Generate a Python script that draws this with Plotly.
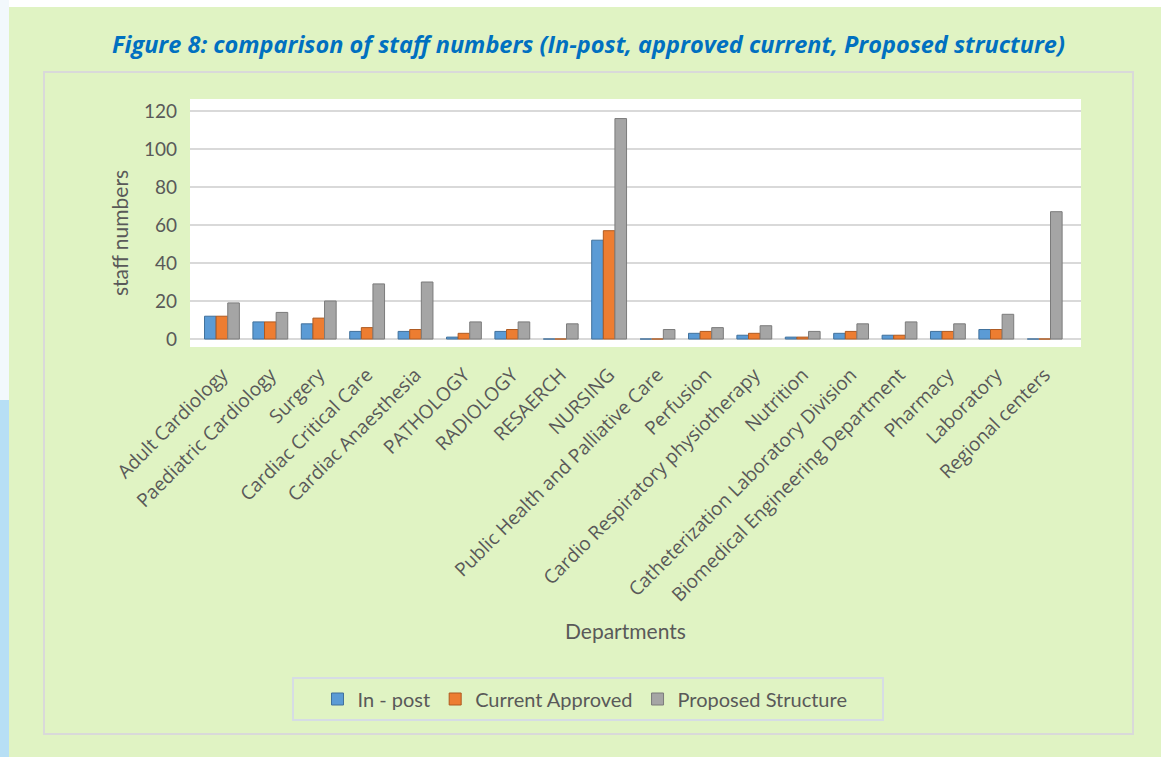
import plotly.graph_objects as go

categories = [
    "Adult Cardiology", "Paediatric Cardiology", "Surgery", "Cardiac Critical Care",
    "Cardiac Anaesthesia", "PATHOLOGY", "RADIOLOGY", "RESAERCH", "NURSING",
    "Public Health and Palliative Care", "Perfusion", "Cardio Respiratory physiotherapy",
    "Nutrition", "Catheterization Laboratory Division", "Biomedical Engineering Department",
    "Pharmacy", "Laboratory", "Regional centers",
]
in_post = [12, 9, 8, 4, 4, 1, 4, 0, 52, 0, 3, 2, 1, 3, 2, 4, 5, 0]
current_approved = [12, 9, 11, 6, 5, 3, 5, 0, 57, 0, 4, 3, 1, 4, 2, 4, 5, 0]
proposed_structure = [19, 14, 20, 29, 30, 9, 9, 8, 116, 5, 6, 7, 4, 8, 9, 8, 13, 67]
series_names = ["In - post", "Current Approved", "Proposed Structure"]
y_ticks = [0, 20, 40, 60, 80, 100, 120]

W, H = 1161, 757
L, R, T, B = 190, 1081, 99, 347


def px(x):
    return (x - L) / (R - L)


def py(y):
    return (B - y) / (B - T)


GRAY_TXT = "#595959"
FONT = "Lato"

fig = go.Figure()
colors = ["#5B9BD5", "#ED7D31", "#A5A5A5"]
edges = ["#41719C", "#AE5A21", "#7B7B7B"]
for name, vals, c, e in zip(series_names, [in_post, current_approved, proposed_structure], colors, edges):
    fig.add_trace(go.Bar(
        x=categories, y=vals, name=name,
        marker=dict(color=c, line=dict(color=e, width=1)),
    ))

shapes = [
    dict(type="rect", xref="paper", yref="paper", x0=px(0), x1=px(W), y0=py(0), y1=py(7),
         fillcolor="white", line=dict(width=0), layer="below"),
    dict(type="rect", xref="paper", yref="paper", x0=px(0), x1=px(9), y0=py(0), y1=py(400),
         fillcolor="#F2F8FC", line=dict(width=0), layer="below"),
    dict(type="rect", xref="paper", yref="paper", x0=px(0), x1=px(9), y0=py(400), y1=py(H),
         fillcolor="#B7DFF5", line=dict(width=0), layer="below"),
    dict(type="rect", xref="paper", yref="paper", x0=px(44), x1=px(1133), y0=py(72), y1=py(734),
         fillcolor="rgba(0,0,0,0)", line=dict(color="#D9D9D9", width=2), layer="below"),
    dict(type="rect", xref="paper", yref="paper", x0=px(293), x1=px(883), y0=py(678), y1=py(720),
         fillcolor="rgba(0,0,0,0)", line=dict(color="#D6DCE4", width=2), layer="below"),
]

annotations = [
    dict(text="<b><i>Figure 8: comparison of staff numbers (In-post, approved current, Proposed structure)</i></b>",
         xref="paper", yref="paper", x=px(588), y=py(44), showarrow=False,
         xanchor="center", yanchor="middle",
         font=dict(family="Open Sans", size=23.5, color="#0070C0")),
    dict(text="staff numbers", xref="paper", yref="paper", x=px(119), y=py(233), showarrow=False,
         textangle=-90, xanchor="center", yanchor="middle",
         font=dict(family=FONT, size=21, color=GRAY_TXT)),
    dict(text="Departments", xref="paper", yref="paper", x=px(625), y=py(630), showarrow=False,
         xanchor="center", yanchor="middle",
         font=dict(family=FONT, size=21, color=GRAY_TXT)),
]

fig.update_layout(
    width=W, height=H,
    margin=dict(l=L, r=W - R, t=T, b=H - B, pad=0),
    paper_bgcolor="#E0F3C3",
    plot_bgcolor="white",
    barmode="group",
    bargap=0.28,
    bargroupgap=0.0,
    showlegend=True,
    legend=dict(orientation="h", x=px(585), xanchor="center", y=py(699), yanchor="middle",
                font=dict(family=FONT, size=20, color=GRAY_TXT),
                bgcolor="rgba(0,0,0,0)", borderwidth=0, itemwidth=30,
                traceorder="normal"),
    shapes=shapes,
    annotations=annotations,
    xaxis=dict(
        type="category", range=[-0.66, 17.75], tickangle=-45,
        tickfont=dict(family="Open Sans", size=19, color=GRAY_TXT),
        showgrid=False, showline=False, zeroline=False, ticks="", automargin=False,
        ticklabelstandoff=12,
    ),
    yaxis=dict(
        range=[-4.2, 126.3], tickvals=y_ticks, ticktext=[str(v) for v in y_ticks],
        tickfont=dict(family=FONT, size=19, color=GRAY_TXT),
        showgrid=True, gridcolor="#D9D9D9", gridwidth=2, zeroline=False,
        showline=False, ticks="", automargin=False, ticklabelstandoff=12,
    ),
)

fig.write_html("out.html")
